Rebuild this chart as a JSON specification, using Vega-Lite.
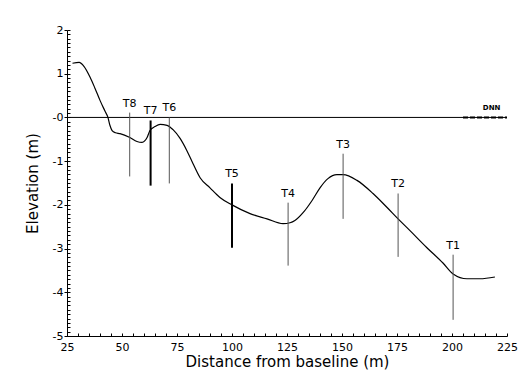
{
  "$schema": "https://vega.github.io/schema/vega-lite/v6.json",
  "width": 440,
  "height": 306,
  "autosize": {"type": "none"},
  "padding": {"left": 67, "top": 30, "right": 13, "bottom": 47},
  "background": "white",
  "config": {
    "view": {"stroke": null},
    "font": "DejaVu Sans",
    "axis": {"domainColor": "black", "tickColor": "black", "labelColor": "black", "titleColor": "black", "grid": false, "labelFont": "DejaVu Sans", "titleFont": "DejaVu Sans", "titleFontWeight": "normal"}
  },
  "datasets": {
    "profile": [
      {"dist": 27.5, "elev": 1.24}, {"dist": 30.5, "elev": 1.26}, {"dist": 32.7, "elev": 1.17},
      {"dist": 35.5, "elev": 0.92}, {"dist": 37.7, "elev": 0.67}, {"dist": 40, "elev": 0.39},
      {"dist": 42.3, "elev": 0.14}, {"dist": 43.6, "elev": 0}, {"dist": 44.5, "elev": -0.18},
      {"dist": 45.5, "elev": -0.3}, {"dist": 47, "elev": -0.35}, {"dist": 49.1, "elev": -0.37},
      {"dist": 53.6, "elev": -0.46}, {"dist": 56.8, "elev": -0.55}, {"dist": 59.1, "elev": -0.57},
      {"dist": 61.4, "elev": -0.46}, {"dist": 62.7, "elev": -0.3}, {"dist": 65, "elev": -0.21},
      {"dist": 67.3, "elev": -0.16}, {"dist": 70.5, "elev": -0.18}, {"dist": 73.2, "elev": -0.28},
      {"dist": 76.4, "elev": -0.48}, {"dist": 79.5, "elev": -0.76}, {"dist": 82.3, "elev": -1.06},
      {"dist": 85.5, "elev": -1.38}, {"dist": 90, "elev": -1.61}, {"dist": 94.5, "elev": -1.83},
      {"dist": 100, "elev": -2.0}, {"dist": 108.2, "elev": -2.2}, {"dist": 115.9, "elev": -2.32},
      {"dist": 123.2, "elev": -2.43}, {"dist": 126.4, "elev": -2.41}, {"dist": 128.6, "elev": -2.36},
      {"dist": 132.3, "elev": -2.18}, {"dist": 136.4, "elev": -1.9}, {"dist": 140, "elev": -1.61},
      {"dist": 143.6, "elev": -1.4}, {"dist": 147.7, "elev": -1.31}, {"dist": 150.5, "elev": -1.31},
      {"dist": 156.8, "elev": -1.44}, {"dist": 164.1, "elev": -1.74}, {"dist": 170.5, "elev": -2.06},
      {"dist": 175.5, "elev": -2.32}, {"dist": 180.9, "elev": -2.59}, {"dist": 188.6, "elev": -2.98},
      {"dist": 195.9, "elev": -3.33}, {"dist": 200.5, "elev": -3.58}, {"dist": 206.8, "elev": -3.69},
      {"dist": 212.7, "elev": -3.69}, {"dist": 219.5, "elev": -3.65}
    ],
    "transects": [
      {"name": "T8", "dist": 53.5, "top": 0.11, "bottom": -1.35},
      {"name": "T7", "dist": 63, "top": -0.07, "bottom": -1.56},
      {"name": "T6", "dist": 71.5, "top": 0, "bottom": -1.51},
      {"name": "T5", "dist": 100, "top": -1.51, "bottom": -2.98},
      {"name": "T4", "dist": 125.5, "top": -1.95, "bottom": -3.39},
      {"name": "T3", "dist": 150.5, "top": -0.83, "bottom": -2.32},
      {"name": "T2", "dist": 175.5, "top": -1.74, "bottom": -3.19},
      {"name": "T1", "dist": 200.5, "top": -3.14, "bottom": -4.63}
    ],
    "datum": [{"level": 0}]
  },
  "resolve": {"axis": {"x": "independent", "y": "independent"}},
  "layer": [
    {
      "data": {"name": "profile"},
      "mark": {"type": "line", "color": "black", "strokeWidth": 1.2, "interpolate": "monotone"},
      "encoding": {
        "x": {"field": "dist", "type": "quantitative", "scale": {"domain": [25, 225], "nice": false, "zero": false},
          "axis": {"orient": "bottom", "values": [25, 50, 75, 100, 125, 150, 175, 200, 225], "ticks": false, "tickSize": 0, "domain": false, "labelPadding": 5, "labelFontSize": 11, "labelFlush": false, "title": "Distance from baseline (m)", "titleFontSize": 15, "titlePadding": 2}},
        "y": {"field": "elev", "type": "quantitative", "scale": {"domain": [-5, 2], "nice": false, "zero": false},
          "axis": {"orient": "left", "values": [-5, -4, -3, -2, -1, 0, 1, 2], "tickSize": 3, "tickWidth": 1, "domain": false, "labelPadding": 1, "labelFontSize": 11, "labelExpr": "(datum.value <= 0 ? '-' : '') + abs(datum.value)", "title": "Elevation (m)", "titleFontSize": 15, "titlePadding": 12}}
      }
    },
    {
      "data": {"name": "datum"},
      "mark": {"type": "rule", "color": "black", "strokeWidth": 1},
      "encoding": {
        "y": {"field": "level", "type": "quantitative",
          "axis": {"orient": "left", "values": [-5, -4.9, -4.8, -4.7, -4.6, -4.5, -4.4, -4.3, -4.2, -4.1, -4, -3.9, -3.8, -3.7, -3.6, -3.5, -3.4, -3.3, -3.2, -3.1, -3, -2.9, -2.8, -2.7, -2.6, -2.5, -2.4, -2.3, -2.2, -2.1, -2, -1.9, -1.8, -1.7, -1.6, -1.5, -1.4, -1.3, -1.2, -1.1, -1, -0.9, -0.8, -0.7, -0.6, -0.5, -0.4, -0.3, -0.2, -0.1, 0, 0.1, 0.2, 0.3, 0.4, 0.5, 0.6, 0.7, 0.8, 0.9, 1, 1.1, 1.2, 1.3, 1.4, 1.5, 1.6, 1.7, 1.8, 1.9, 2], "tickSize": -3, "labels": false, "title": null, "domain": true, "domainWidth": 1}}
      }
    },
    {
      "data": {"name": "datum"},
      "mark": {"type": "rule", "color": "black", "strokeWidth": 2, "strokeDash": [5, 2]},
      "encoding": {
        "x": {"datum": 205, "type": "quantitative",
          "axis": {"orient": "bottom", "values": [25, 30, 35, 40, 45, 50, 55, 60, 65, 70, 75, 80, 85, 90, 95, 100, 105, 110, 115, 120, 125, 130, 135, 140, 145, 150, 155, 160, 165, 170, 175, 180, 185, 190, 195, 200, 205, 210, 215, 220, 225], "tickSize": -3, "labels": false, "title": null, "domain": true, "domainWidth": 1}},
        "x2": {"datum": 225},
        "y": {"field": "level", "type": "quantitative", "axis": null}
      }
    },
    {
      "data": {"name": "datum"},
      "mark": {"type": "text", "fontSize": 7, "fontWeight": "bold", "dy": -9, "color": "black"},
      "encoding": {
        "x": {"datum": 218, "type": "quantitative", "axis": null},
        "y": {"field": "level", "type": "quantitative", "axis": null},
        "text": {"value": "DNN"}
      }
    },
    {
      "data": {"name": "transects"},
      "transform": [{"filter": "datum.name != 'T7' && datum.name != 'T5'"}],
      "mark": {"type": "rule", "color": "#555555", "strokeWidth": 1},
      "encoding": {
        "x": {"field": "dist", "type": "quantitative", "axis": null},
        "y": {"field": "top", "type": "quantitative", "axis": null},
        "y2": {"field": "bottom"}
      }
    },
    {
      "data": {"name": "transects"},
      "transform": [{"filter": "datum.name == 'T7' || datum.name == 'T5'"}],
      "mark": {"type": "rule", "color": "black", "strokeWidth": 2},
      "encoding": {
        "x": {"field": "dist", "type": "quantitative", "axis": null},
        "y": {"field": "top", "type": "quantitative", "axis": null},
        "y2": {"field": "bottom"}
      }
    },
    {
      "data": {"name": "transects"},
      "mark": {"type": "text", "fontSize": 11, "dy": -9, "baseline": "middle", "color": "black"},
      "encoding": {
        "x": {"field": "dist", "type": "quantitative", "axis": null},
        "y": {"field": "top", "type": "quantitative", "axis": null},
        "text": {"field": "name"}
      }
    }
  ]
}
